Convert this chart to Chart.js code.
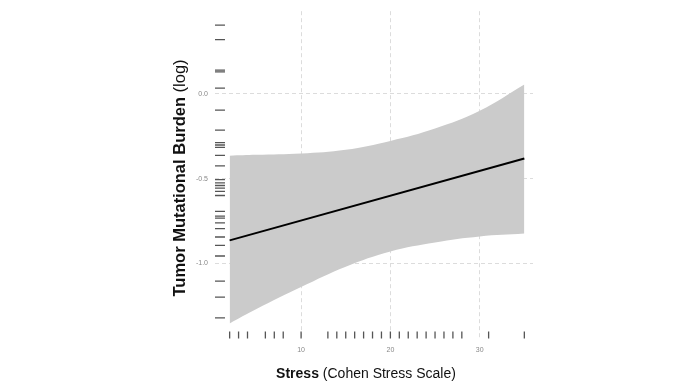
<!DOCTYPE html>
<html>
<head>
<meta charset="utf-8">
<script src="https://cdn.jsdelivr.net/npm/chart.js@4/dist/chart.umd.min.js"></script>
<style>
  html, body { margin: 0; padding: 0; background: #fff; }
  #wrap { width: 689px; height: 388px; }
</style>
</head>
<body>
<div id="wrap"><canvas id="tmbChart" width="689" height="388"></canvas></div>
<script>
// Confidence band
const stressX = [2, 5, 10, 15, 20, 25, 30, 35];
const bandUpper = [-0.365, -0.36, -0.352, -0.33, -0.278, -0.205, -0.10, 0.055];
const bandLower = [-1.355, -1.27, -1.14, -1.02, -0.93, -0.877, -0.842, -0.825];

// Fitted line (straight, end points)
const fitX = [2, 35];
const fitY = [-0.865, -0.382];

// Rug marks
const stressRug = [2, 3, 4, 6, 7, 8, 10, 13, 14, 15, 16, 17, 18, 19, 20, 21, 22, 23, 24, 25, 26, 27, 28, 31, 35];
const tmbRug = [0.406, 0.32, 0.14, 0.13, 0.034, -0.096, -0.214, -0.288, -0.302, -0.316, -0.363, -0.425,
    -0.506, -0.525, -0.541, -0.557, -0.576, -0.6, -0.694, -0.722, -0.733, -0.761, -0.796, -0.845,
    -0.894, -0.957, -1.106, -1.2, -1.322];

// Axis ticks
const xTicks = [10, 20, 30];
const yTicks = [-1.0, -0.5, 0.0];

const X_MIN = 0.36, X_MAX = 35.97;
const Y_MIN = -1.453, Y_MAX = 0.488;
const RUG_AT_X = 0.918;   // where the y-rug sits on the x scale
const RUG_AT_Y = -1.4235; // where the x-rug sits on the y scale

const pts = (xs, ys) => xs.map((x, i) => ({ x: x, y: ys[i] }));

const axisTitles = {
    id: 'axisTitles',
    afterDraw(chart) {
        const ctx = chart.ctx;
        ctx.save();
        ctx.fillStyle = '#111';
        ctx.textBaseline = 'alphabetic';

        // x title: bold + normal
        const xb = 'bold 14px "Liberation Sans", Arial, sans-serif';
        const xn = '14px "Liberation Sans", Arial, sans-serif';
        const b1 = 'Stress', n1 = ' (Cohen Stress Scale)';
        ctx.font = xb; const w1 = ctx.measureText(b1).width;
        ctx.font = xn; const w2 = ctx.measureText(n1).width;
        let sx = 366 - (w1 + w2) / 2;
        ctx.textAlign = 'left';
        ctx.font = xb; ctx.fillText(b1, sx, 378);
        ctx.font = xn; ctx.fillText(n1, sx + w1, 378);

        // y title rotated
        const yb = 'bold 16.5px "Liberation Sans", Arial, sans-serif';
        const yn = '16.5px "Liberation Sans", Arial, sans-serif';
        const b2 = 'Tumor Mutational Burden', n2 = ' (log)';
        ctx.font = yb; const w3 = ctx.measureText(b2).width;
        ctx.font = yn; const w4 = ctx.measureText(n2).width;
        ctx.translate(185, 178);
        ctx.rotate(-Math.PI / 2);
        const sy = -(w3 + w4) / 2;
        ctx.font = yb; ctx.fillText(b2, sy, 0);
        ctx.font = yn; ctx.fillText(n2, sy + w3, 0);
        ctx.restore();
    }
};

new Chart(document.getElementById('tmbChart').getContext('2d'), {
    type: 'scatter',
    data: {
        datasets: [
            {
                label: 'lower',
                data: pts(stressX, bandLower),
                showLine: true,
                borderWidth: 0,
                borderColor: 'rgba(0,0,0,0)',
                pointRadius: 0,
                tension: 0.4,
                fill: false,
                order: 5
            },
            {
                label: 'upper',
                data: pts(stressX, bandUpper),
                showLine: true,
                borderWidth: 0,
                borderColor: 'rgba(0,0,0,0)',
                backgroundColor: '#cbcbcb',
                pointRadius: 0,
                tension: 0.4,
                fill: '-1',
                order: 4
            },
            {
                label: 'fit',
                data: pts(fitX, fitY),
                showLine: true,
                borderColor: '#000',
                borderWidth: 2,
                pointRadius: 0,
                fill: false,
                order: 1
            },
            {
                label: 'stress rug',
                data: stressRug.map(v => ({ x: v, y: RUG_AT_Y })),
                pointStyle: 'line',
                rotation: 90,
                pointRadius: 3.5,
                pointBorderColor: '#555',
                pointBorderWidth: 1.3,
                order: 2
            },
            {
                label: 'tmb rug',
                data: tmbRug.map(v => ({ x: RUG_AT_X, y: v })),
                pointStyle: 'line',
                pointRadius: 5,
                pointBorderColor: '#555',
                pointBorderWidth: 1.3,
                order: 2
            }
        ]
    },
    options: {
        responsive: false,
        animation: false,
        layout: { padding: { top: 10, right: 156, left: 0, bottom: 0 } },
        plugins: {
            legend: { display: false },
            tooltip: { enabled: false }
        },
        scales: {
            x: {
                type: 'linear',
                min: X_MIN,
                max: X_MAX,
                z: 1,
                afterBuildTicks: s => { s.ticks = xTicks.map(v => ({ value: v })); },
                afterFit: s => { s.height = 48; },
                border: { display: false, dash: [4, 3] },
                grid: { color: '#dcdcdc', lineWidth: 1, drawTicks: false },
                ticks: {
                    padding: 6,
                    color: '#888',
                    font: { size: 7, family: '"Liberation Sans", Arial, sans-serif' },
                    maxRotation: 0
                }
            },
            y: {
                type: 'linear',
                min: Y_MIN,
                max: Y_MAX,
                z: 1,
                afterBuildTicks: s => { s.ticks = yTicks.map(v => ({ value: v })); },
                afterFit: s => { s.width = 215; },
                border: { display: false, dash: [4, 3] },
                grid: { color: '#dcdcdc', lineWidth: 1, drawTicks: false },
                ticks: {
                    padding: 7,
                    color: '#888',
                    font: { size: 7, family: '"Liberation Sans", Arial, sans-serif' },
                    callback: v => v.toFixed(1)
                }
            }
        }
    },
    plugins: [axisTitles]
});
</script>
</body>
</html>
